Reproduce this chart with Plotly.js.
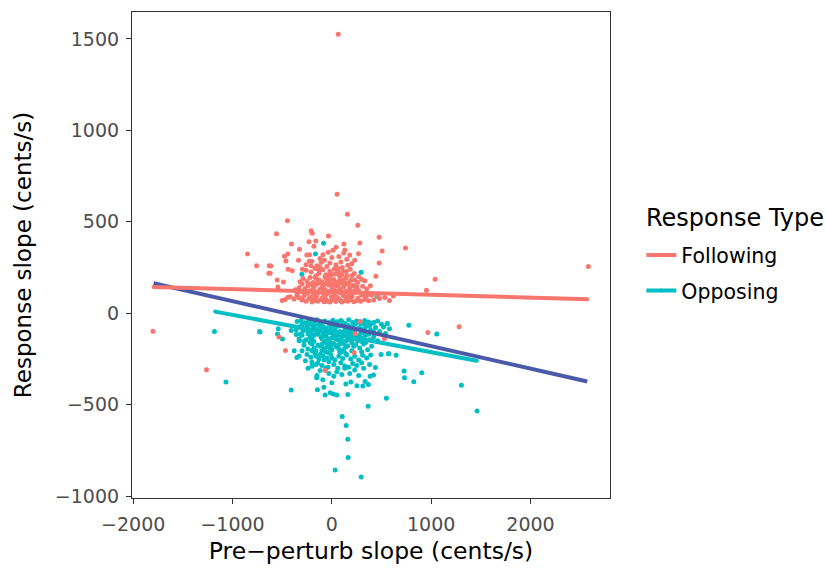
<!DOCTYPE html>
<html>
<head>
<meta charset="utf-8">
<script src="https://cdn.plot.ly/plotly-3.0.1.min.js"></script>
<style>html,body{margin:0;padding:0;background:#fff;}#chart{width:826px;height:570px;}</style>
</head>
<body>
<div id="chart"></div>
<script>
// ---- Data ----
var seriesNames = ["Following", "Opposing"];
var legendTitle = "Response Type";
var xTitle = "Pre\u2212perturb slope (cents/s)";
var yTitle = "Response slope (cents/s)";
var xTickVals = [-2000, -1000, 0, 1000, 2000];
var yTickVals = [-1000, -500, 0, 500, 1000, 1500];

// Following responses (points)
var followX = [
  64, 53, 157, -447, 261, -557, -208, -198, -34, 476,
  -406, -231, -161, -181, 121, 282, 43, 131, 741, -849,
  -326, -443, -477, -252, -225, -37, 268, 506, -463, -758,
  -614, -336, -228, -201, 476, -621, -440, -399, -296, -108,
  443, 1039, 952, -550, -487, -543, 388, 332, 620, 580,
  533, 2582, -1801, -1262, 1281, 966, -533, -467, -67, -631,
  -634, 285, 234, 529, 224, -470, -440, 480, 460, -500,
  -300, -260, -230, -200, -170, -140, -110, -80, -50, -20,
  10, 40, 70, 100, 130, 160, 190, 220, 250, 290,
  330, 370, 420, -380, -330,
  -280, -245, -215, -185, -155, -125, -95, -65, -35, -5,
  25, 55, 85, 115, 145, 175, 205, 235, 265, 300,
  340, -350, -310, 400, -420,
  -270, -240, -210, -180, -150, -120, -90, -60, -30, 0,
  30, 60, 90, 120, 150, 180, 210, 240, 270, 310,
  -330, -370, 350, -200, 20,
  -250, -220, -190, -160, -130, -100, -70, -40, -10, 20,
  50, 80, 110, 140, 170, 200, 230, 260, -290, -320,
  300, -60, 90,
  -210, -170, -130, -90, -50, -15, 25, 65, 105, 145,
  185, 225, -260, -150, 40, 160, -20, 90, 200, -75,
  -120, 0, 70, 150, -260, 230, 120, -90, 10, 180,
  -100, -40, 20, 80, 140, -150, -60, 0, 60, 120,
  -20, 50, 180, -200, 100,
  -230, -190, -150, -110, -70, -30, 10, 50, 90, 130,
  170, 210, 250, -270, -240, -170, -130, -90, -50, -10,
  30, 70, 110, 150, 190, 230, 270, -210, -120, 60,
  -300, -350, 320, 360, -20, 0, 60, 120, -60, -180
];
var followY = [
  1526, 651, 541, 506, 481, 435, 451, 437, 422, 415,
  379, 391, 395, 366, 379, 384, 361, 346, 357, 324,
  350, 324, 312, 319, 320, 333, 326, 341, 286, 260,
  259, 290, 284, 284, 275, 219, 241, 233, 241, 277,
  203, 186, 126, 182, 171, 144, 150, 178, 95, 70,
  86, 255, -98, -309, -74, -105, -130, -204, -313, 260,
  219, -45, -112, -140, -214, 75, 88, 80, 95, 70,
  72, 65, 80, 62, 70, 66, 75, 63, 68, 61,
  72, 64, 78, 62, 69, 66, 74, 63, 70, 65,
  75, 68, 72, 78, 85,
  95, 110, 88, 102, 92, 115, 85, 100, 118, 90,
  105, 86, 112, 96, 88, 108, 92, 115, 84, 100,
  92, 105, 118, 98, 90,
  135, 150, 125, 142, 158, 130, 148, 122, 155, 138,
  125, 150, 132, 145, 160, 128, 152, 138, 125, 148,
  140, 128, 132, 160, 160,
  175, 195, 168, 205, 182, 172, 198, 178, 208, 185,
  170, 200, 178, 192, 165, 205, 182, 168, 190, 172,
  185, 162, 165,
  225, 245, 218, 238, 255, 222, 242, 215, 250, 228,
  240, 218, 235, 260, 265, 262, 275, 280, 270, 290,
  300, 305, 310, 295, 265, 290, 330, 320, 345, 318,
  140, 110, 95, 130, 120, 185, 210, 170, 230, 100,
  190, 150, 140, 120, 210,
  120, 150, 110, 165, 130, 200, 150, 115, 185, 165,
  85, 120, 145, 110, 160, 195, 235, 110, 185, 120,
  215, 175, 230, 205, 180, 150, 200, 260, 250, 245,
  160, 95, 110, 100, 230, 80, 120, 160, 75, 75
];

// Opposing responses (points)
var opposeX = [
  -724, -409, -145, -80, -67, -17, 16, 50, 161, 104,
  144, 161, 164, 33, 295, 365, 549, 727, 731, 825,
  905, 775, 1056, 1304, 1462, -153, -91, 0, 141, 191,
  252, 312, 335, 368, 385, 419, 439, 496, 573, 647,
  556, 422, -540, -547, -497, -409, -359, -329, -379, -352,
  -329, -266, -201, -141, -118, -1182, -728, -1066, 559, 580,
  569, -84, -165, -302, 295, -150, 50, 100, 20, -30,
  180, 230, 270, 320, -60, 130, -180, -50, 90, 453,
  -350, -310, -270, -230, -190, -150, -110, -70, -30, 10,
  50, 90, 130, 170, 210, 250, 290, 330, 370, 410,
  460, 500, -130, 30, 230,
  -330, -290, -250, -210, -170, -130, -90, -50, -10, 30,
  70, 110, 150, 190, 230, 270, 310, 350, 390, 440,
  480, -360, -20, 160, 330,
  -300, -260, -220, -180, -140, -100, -60, -20, 20, 60,
  100, 140, 180, 220, 260, 300, 340, 380, 420, -240,
  0, 200, -80, 460, -330,
  -280, -240, -200, -160, -120, -80, -40, 0, 40, 80,
  120, 160, 200, 240, 280, 320, 360, 400, -300, 100,
  -60, 20, 300, -180, 140,
  -250, -210, -170, -130, -90, -50, -10, 30, 70, 110,
  150, 190, 230, 270, 310, 350, 390, -30, 90, 210,
  -200, -160, -100, -40, 20, 60, 130, 170, 250, 300, 380, -240,
  -120, -70, -20, 30, 80, 130, 180, -100, -40, 60,
  110, 160, -150, -10, 40, 210, -200, 70, 120, -60,
  -230, -190, -150, -110, -70, -30, 10, 50, 90, 130,
  170, 210, 250, 290, 330, 370, -260, -220, -180, -140,
  -100, -60, -20, 20, 60, 100, 140, 180, 220, 260,
  300, 340, 380, 420, -210, -170, -90, -50, 0, 40,
  80, 120, 160, 200, 240, 280, 320, 360, 520, 540,
  -300, -280, -320, -240, -200, -160, -120, -80, -40, 0
];
var opposeY = [
  -103, -420, -418, -405, -447, -434, -442, -447, -444, -564,
  -613, -689, -788, -857, -895, -509, -464, -316, -353, -374,
  -325, -65, -114, -394, -535, -353, -364, -380, -387, -376,
  -396, -398, -373, -389, -345, -338, -296, -225, -222, -229,
  -58, -51, -85, -114, -141, -94, -116, -141, -205, -242,
  -233, -260, -267, -272, -313, -100, -100, -376, -56, -85,
  -222, 383, 324, 213, 224, -340, -320, -335, -345, -330,
  -330, -310, -340, -300, -300, -300, 70, 65, 68, 91,
  -45, -38, -52, -40, -48, -36, -55, -42, -50, -38,
  -47, -40, -55, -36, -50, -42, -58, -40, -48, -55,
  -42, -60, -62, -60, -62,
  -75, -95, -68, -105, -82, -98, -72, -108, -85, -95,
  -70, -102, -88, -75, -98, -80, -105, -70, -92, -78,
  -100, -90, -65, -65, -88,
  -120, -145, -130, -155, -115, -140, -125, -158, -118, -145,
  -128, -150, -115, -140, -125, -155, -120, -145, -130, -112,
  -135, -160, -160, -150, -150,
  -175, -195, -168, -205, -180, -192, -172, -200, -182, -168,
  -198, -178, -205, -172, -190, -168, -200, -180, -205, -210,
  -210, -165, -210, -190, -220,
  -225, -240, -220, -250, -232, -245, -225, -255, -235, -248,
  -228, -250, -235, -255, -230, -245, -228, -265, -270, -275,
  -290, -280, -285, -295, -280, -300, -288, -295, -285, -270, -280, -300,
  -80, -115, -65, -130, -100, -75, -140, -170, -95, -120,
  -155, -110, -90, -180, -75, -100, -140, -195, -60, -150,
  -60, -70, -110, -130, -88, -140, -55, -105, -150, -95,
  -125, -80, -140, -110, -60, -115, -90, -160, -120, -175,
  -205, -80, -190, -70, -175, -45, -185, -90, -180, -150,
  -85, -160, -70, -100, -145, -60, -120, -185, -105, -140,
  -215, -165, -145, -125, -55, -130, -135, -55, -75, -110,
  -60, -155, -115, -85, -205, -235, -225, -255, -215, -245
];

// Linear fits (end points of each fitted line)
var fitFollowX = [-1795, 2571];
var fitFollowY = [144, 77];
var fitOpposeX = [-1174, 1459];
var fitOpposeY = [9, -260];
var fitAllX = [-1795, 2571];
var fitAllY = [164, -373];

// ---- Styles ----
var colFollow = "#F8766D";
var colOppose = "#00BFC4";
var colAll = "#4a5aa8";
var FONT = "DejaVu Sans, Open Sans, sans-serif";

var traces = [
  {x: opposeX, y: opposeY, type: "scatter", mode: "markers", showlegend: false, hoverinfo: "x+y",
   marker: {color: colOppose, size: 5, line: {width: 0}}},
  {x: followX, y: followY, type: "scatter", mode: "markers", showlegend: false, hoverinfo: "x+y",
   marker: {color: colFollow, size: 5, line: {width: 0}}},
  {x: fitAllX, y: fitAllY, type: "scatter", mode: "lines", showlegend: false,
   line: {color: colAll, width: 4}},
  {x: fitFollowX, y: fitFollowY, type: "scatter", mode: "lines+markers", name: seriesNames[0], legendgroup: "f",
   line: {color: colFollow, width: 4}, marker: {color: colFollow, size: 4}},
  {x: fitOpposeX, y: fitOpposeY, type: "scatter", mode: "lines+markers", name: seriesNames[1], legendgroup: "o",
   line: {color: colOppose, width: 4}, marker: {color: colOppose, size: 4}}
];

var axisCommon = {
  showgrid: false, zeroline: false, showline: true, mirror: true,
  linecolor: "#333333", linewidth: 1.1,
  ticks: "outside", ticklen: 5, tickwidth: 1.1, tickcolor: "#333333",
  tickfont: {family: FONT, size: 19, color: "#4d4d4d"},
  tickmode: "array", automargin: false
};

var layout = {
  width: 826, height: 570, autosize: false,
  paper_bgcolor: "#ffffff", plot_bgcolor: "#ffffff",
  margin: {l: 132, r: 216, t: 12, b: 72, pad: 0},
  font: {family: FONT, color: "#000"},
  xaxis: Object.assign({}, axisCommon, {
    range: [-2012, 2800], tickvals: xTickVals,
    ticklabelstandoff: 4,
    title: {text: xTitle, font: {family: FONT, size: 23.5, color: "#000"}, standoff: 8}
  }),
  yaxis: Object.assign({}, axisCommon, {
    range: [-1010, 1647], tickvals: yTickVals,
    ticklabelstandoff: 3,
    title: {text: yTitle, font: {family: FONT, size: 23, color: "#000"}, standoff: 16}
  }),
  legend: {
    x: 1.0656, xanchor: "left", y: 0.541, yanchor: "top",
    bgcolor: "rgba(0,0,0,0)", borderwidth: 0,
    font: {family: FONT, size: 20.5, color: "#000"},
    itemwidth: 30, traceorder: "grouped", tracegroupgap: 6
  },
  annotations: [{
    text: legendTitle, xref: "paper", yref: "paper",
    x: 1.0715, y: 0.576, xanchor: "left", yanchor: "middle",
    showarrow: false, font: {family: FONT, size: 24, color: "#000"}
  }],
  hovermode: "closest"
};

Plotly.newPlot("chart", traces, layout, {displayModeBar: false, staticPlot: true});
</script>
</body>
</html>
